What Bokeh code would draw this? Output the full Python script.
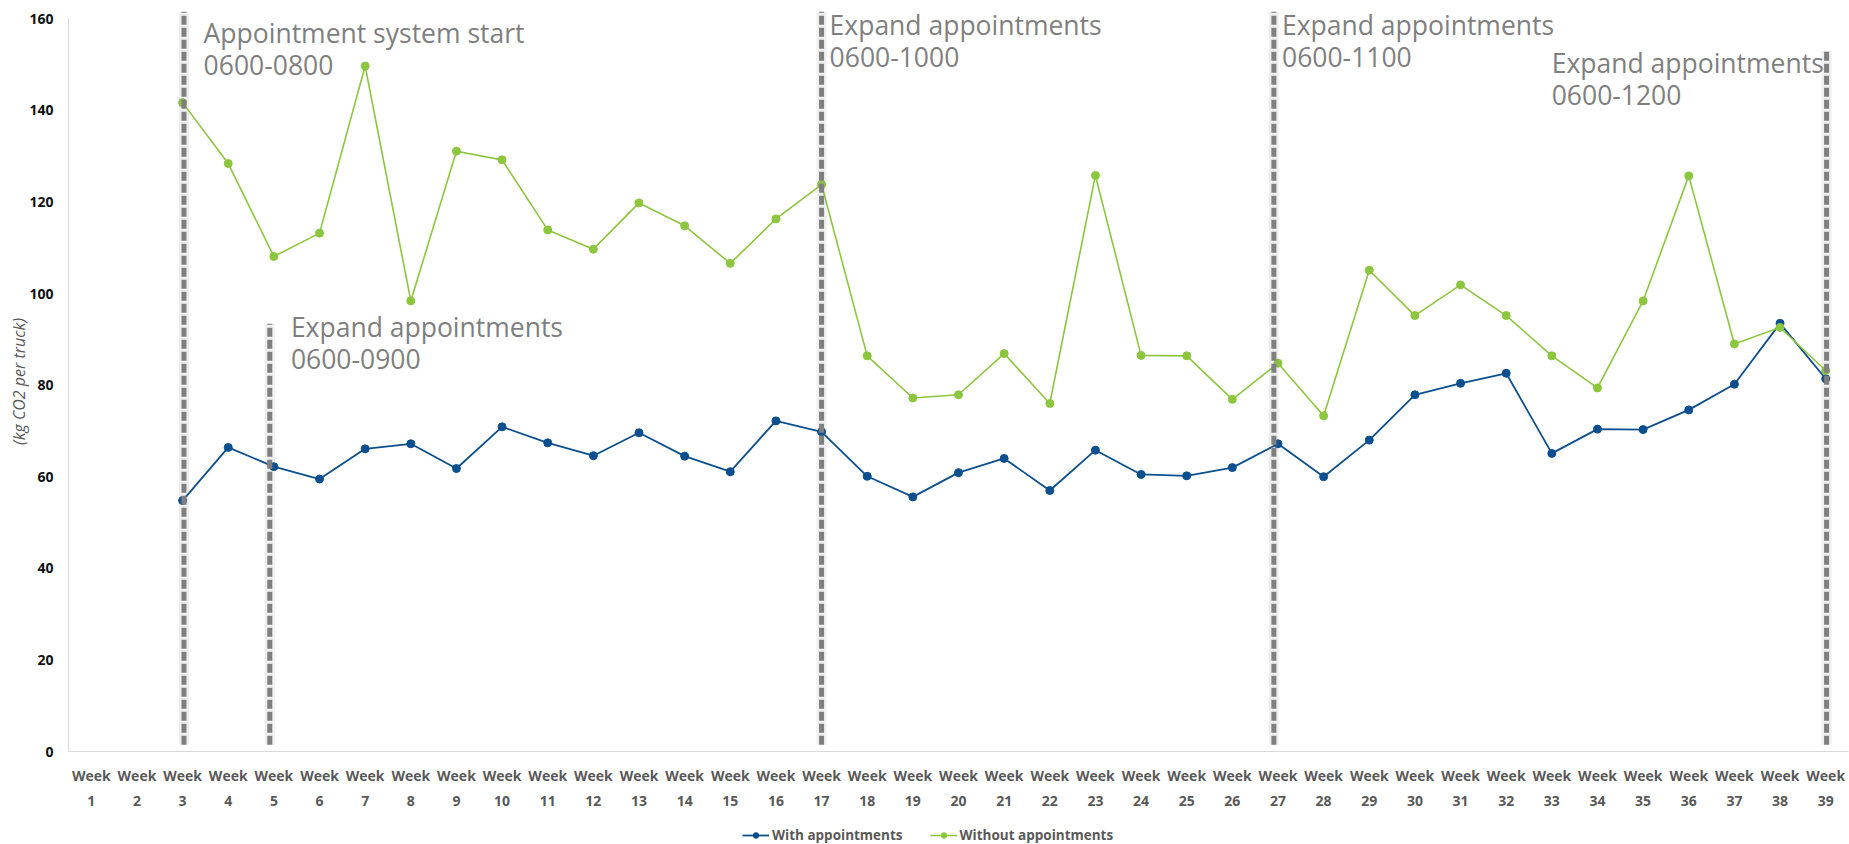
from bokeh.plotting import figure
from bokeh.layouts import column
from bokeh.models import (ColumnDataSource, Range1d, Legend, LegendItem,
                          FixedTicker, LinearAxis)
from bokeh.embed import file_html
from bokeh.resources import INLINE
from bokeh.core.properties import value

# ---------------- data ----------------
week_no = list(range(1, 40))
week_labels = [f"Week {i}" for i in week_no]
with_appt = [None, None, 54.8, 66.4, 62.2, 59.5, 66.1, 67.2, 61.8, 70.9, 67.4, 64.6, 69.6,
             64.5, 61.1, 72.2, 69.8, 60.1, 55.6, 60.9, 64.0, 57.0, 65.8, 60.5, 60.2, 62.0,
             67.2, 60.0, 68.0, 77.9, 80.4, 82.6, 65.1, 70.4, 70.3, 74.6, 80.2, 93.5, 81.4]
without_appt = [None, None, 141.7, 128.4, 108.1, 113.2, 149.7, 98.4, 131.1, 129.2, 113.9,
                109.7, 119.8, 114.8, 106.6, 116.3, 123.8, 86.4, 77.2, 77.9, 86.9, 76.0,
                125.8, 86.5, 86.4, 76.9, 84.8, 73.3, 105.1, 95.2, 101.9, 95.2, 86.4, 79.4,
                98.4, 125.7, 89.0, 92.6, 83.2]
y_ticks = [0, 20, 40, 60, 80, 100, 120, 140, 160]

event_week = [3, 5, 17, 27, 39]
event_line_top = [161.6, 93.4, 161.6, 161.6, 153.0]
event_title = ["Appointment system start", "Expand appointments", "Expand appointments",
               "Expand appointments", "Expand appointments"]
event_window = ["0600-0800", "0600-0900", "0600-1000", "0600-1100", "0600-1200"]

# ---------------- layout / style helpers ----------------
line_shift = [0.03, -0.09, 0.0, -0.09, 0.02]          # week units
label_dx = [21, 17, 8, 4, -274]                        # px
label_y1 = [157.0, 92.6, 158.6, 158.6, 150.4]
label_y2 = [150.0, 85.8, 151.7, 151.7, 143.3]

BLUE = "#0b4f8e"
GREEN = "#8cc63f"
DASH = "#7f7f7f"

nan = float("nan")
src = ColumnDataSource(dict(
    x=week_no,
    week=week_labels,
    w=[nan if v is None else v for v in with_appt],
    wo=[nan if v is None else v for v in without_appt],
))

p = figure(width=1849, height=825, output_backend="svg", toolbar_location=None,
           x_range=Range1d(0.5, 39.5), y_range=Range1d(0, 161.6),
           min_border_left=68, min_border_right=1, min_border_top=11, min_border_bottom=74)
p.outline_line_color = None
p.grid.visible = False
p.background_fill_color = "white"
p.border_fill_color = "white"

# series
lw = p.line("x", "w", source=src, line_color=BLUE, line_width=1.8)
sw = p.scatter("x", "w", source=src, size=8, fill_color=BLUE, line_color=BLUE)
lo = p.line("x", "wo", source=src, line_color=GREEN, line_width=1.6)
so = p.scatter("x", "wo", source=src, size=8, fill_color=GREEN, line_color=GREEN)

# event lines
ev = ColumnDataSource(dict(
    x=[wk + s for wk, s in zip(event_week, line_shift)],
    y0=[1.5] * len(event_week),
    y1=event_line_top,
))
p.segment(x0="x", y0="y0", x1="x", y1="y1", source=ev, line_color=DASH,
          line_width=10, line_alpha=0.12)
p.segment(x0="x", y0="y0", x1="x", y1="y1", source=ev, line_color=DASH,
          line_width=5, line_dash="9 3")

# event labels
lab = ColumnDataSource(dict(
    x=event_week * 2,
    y=label_y1 + label_y2,
    t=event_title + event_window,
    dx=label_dx * 2,
))
p.text(x="x", y="y", text="t", x_offset="dx", source=lab, text_color=DASH,
       text_font=value("Open Sans"), text_font_size="26.5px", text_baseline="alphabetic",
       text_align="left")

# y axis
p.yaxis.ticker = FixedTicker(ticks=y_ticks)
p.yaxis.bounds = (0, 160)
p.yaxis.axis_label = "(kg CO2 per truck)"
p.yaxis.axis_label_text_font = "Open Sans"
p.yaxis.axis_label_text_font_style = "italic"
p.yaxis.axis_label_text_font_size = "16px"
p.yaxis.axis_label_text_color = "#595959"
p.yaxis.axis_label_standoff = -4
p.yaxis.major_label_text_font = "Open Sans"
p.yaxis.major_label_text_font_style = "bold"
p.yaxis.major_label_text_font_size = "14px"
p.yaxis.major_label_text_color = "#111111"
p.yaxis.major_label_standoff = 15

# x axes: "Week" row and number row
week_axis = p.xaxis[0]
num_axis = LinearAxis()
p.add_layout(num_axis, "below")
for ax in (week_axis, num_axis):
    ax.ticker = FixedTicker(ticks=week_no)
    ax.major_label_text_font = "Open Sans"
    ax.major_label_text_font_style = "bold"
    ax.major_label_text_font_size = "14px"
    ax.major_label_text_color = "#595959"
    ax.major_label_text_line_height = 1.0
week_axis.major_label_overrides = {n: lbl.split(" ")[0] for n, lbl in zip(week_no, week_labels)}
num_axis.major_label_overrides = {n: lbl.split(" ")[1] for n, lbl in zip(week_no, week_labels)}
week_axis.major_label_standoff = 14
num_axis.major_label_standoff = 8
num_axis.axis_line_color = None
week_axis.axis_line_color = "#d9d9d9"
p.yaxis.axis_line_color = "#d9d9d9"

for ax in list(p.xaxis) + list(p.yaxis):
    ax.axis_line_width = 1
    ax.major_tick_line_color = None
    ax.minor_tick_line_color = None
    ax.major_tick_out = 0
    ax.major_tick_in = 0

# ---------------- legend strip ----------------
pl = figure(width=1849, height=19, output_backend="svg", toolbar_location=None,
            x_range=Range1d(0, 1), y_range=Range1d(1000, 1001),
            x_axis_location=None, y_axis_location=None,
            min_border_left=0, min_border_right=0, min_border_top=0, min_border_bottom=0)
pl.outline_line_color = None
pl.grid.visible = False
llw = pl.line("x", "w", source=src, line_color=BLUE, line_width=1.8)
lsw = pl.scatter("x", "w", source=src, size=8, fill_color=BLUE, line_color=BLUE)
llo = pl.line("x", "wo", source=src, line_color=GREEN, line_width=1.6)
lso = pl.scatter("x", "wo", source=src, size=8, fill_color=GREEN, line_color=GREEN)

legend = Legend(items=[LegendItem(label="With appointments", renderers=[llw, lsw]),
                       LegendItem(label="Without appointments", renderers=[llo, lso])],
                location=(674, 0), orientation="horizontal")
legend.label_text_font = "Open Sans"
legend.label_text_font_style = "bold"
legend.label_text_font_size = "13.5px"
legend.label_text_color = "#595959"
legend.glyph_width = 27
legend.glyph_height = 14
legend.label_height = 14
legend.label_standoff = 3
legend.spacing = 27
legend.padding = 0
legend.margin = 0
legend.border_line_color = None
legend.background_fill_alpha = 0
pl.add_layout(legend, "center")

layout = column(p, pl, spacing=0)
open("out.html", "w").write(file_html(layout, INLINE))
